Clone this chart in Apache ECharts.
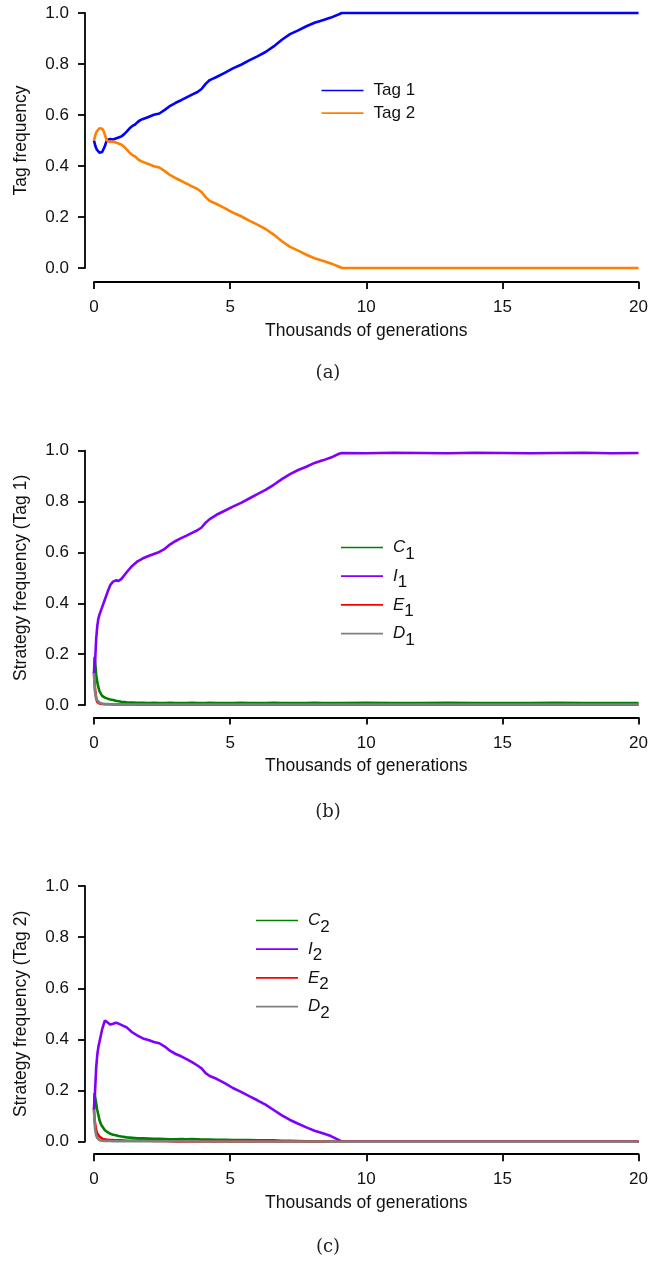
<!DOCTYPE html>
<html>
<head>
<meta charset="utf-8">
<script src="https://cdn.jsdelivr.net/npm/echarts@6/dist/echarts.min.js"></script>
<style>
  html, body { margin: 0; padding: 0; background: #fff; }
  #chart { width: 651px; height: 1262px; }
</style>
</head>
<body>
<div id="chart"></div>
<script>
// ---- Panel (a): tag frequencies over time (thousands of generations) ----
const tagTime = [0, 0.05, 0.1, 0.15, 0.2, 0.25, 0.3, 0.35, 0.4, 0.45, 0.5, 0.6, 0.7, 0.8, 0.9, 1.0,
  1.1, 1.2, 1.3, 1.4, 1.5, 1.6, 1.7, 1.8, 2.0, 2.2, 2.4, 2.6, 2.8, 3.0, 3.2, 3.4, 3.6, 3.8,
  3.95, 4.1, 4.25, 4.5, 4.8, 5.1, 5.4, 5.7, 6.0, 6.3, 6.6, 6.9, 7.2, 7.5, 7.8, 8.1, 8.4, 8.7,
  9.0, 9.1, 20];
const tag1 = [0.500, 0.478, 0.465, 0.458, 0.452, 0.450, 0.455, 0.462, 0.478, 0.495, 0.503, 0.506, 0.504, 0.508, 0.512, 0.516,
  0.524, 0.535, 0.547, 0.556, 0.562, 0.572, 0.580, 0.584, 0.592, 0.601, 0.606, 0.620, 0.636, 0.648, 0.658, 0.669, 0.680, 0.690,
  0.702, 0.722, 0.737, 0.749, 0.765, 0.783, 0.797, 0.814, 0.830, 0.847, 0.869, 0.895, 0.917, 0.932, 0.948, 0.962, 0.972, 0.982,
  0.995, 1.000, 1.000];
const tag2 = [0.500, 0.522, 0.535, 0.542, 0.548, 0.550, 0.546, 0.538, 0.522, 0.506, 0.497, 0.494, 0.496, 0.492, 0.488, 0.484,
  0.476, 0.465, 0.453, 0.444, 0.438, 0.428, 0.420, 0.416, 0.408, 0.399, 0.394, 0.380, 0.364, 0.352, 0.342, 0.331, 0.320, 0.310,
  0.298, 0.278, 0.263, 0.251, 0.235, 0.217, 0.203, 0.186, 0.170, 0.153, 0.131, 0.105, 0.083, 0.068, 0.052, 0.038, 0.028, 0.018,
  0.005, 0.000, 0.000];

// ---- Panels (b) and (c): strategy frequencies within each tag ----
const stratTime = [
  0, 0.02, 0.04, 0.08, 0.12, 0.16, 0.2, 0.25, 0.3, 0.4, 0.5, 0.6, 0.7, 0.8, 0.9, 1.0,
  1.2, 1.4, 1.6, 1.8, 2.0, 2.2, 2.4, 2.6, 2.8, 3.0, 3.2, 3.4, 3.6, 3.8,
  3.95, 4.1, 4.25,
  4.5, 4.8, 5.1, 5.4, 5.7, 6.0, 6.3, 6.6, 6.9, 7.2, 7.5, 7.8, 8.1, 8.4, 8.7, 9.0,
  9.1,
  10, 11, 12, 13, 14, 15, 16, 17, 18, 19, 20];

// Tag 1
const c1 = [
  0.125, 0.19, 0.17, 0.12, 0.09, 0.07, 0.055, 0.045, 0.036, 0.029, 0.025, 0.022, 0.020, 0.017, 0.015, 0.013,
  0.011, 0.010, 0.009, 0.009, 0.008, 0.009, 0.008, 0.008, 0.009, 0.008, 0.008, 0.008, 0.009, 0.008,
  0.008, 0.008, 0.009,
  0.008, 0.008, 0.008, 0.009, 0.008, 0.008, 0.008, 0.009, 0.008, 0.008, 0.008, 0.008, 0.009, 0.008, 0.008, 0.008,
  0.008,
  0.009, 0.008, 0.008, 0.009, 0.008, 0.008, 0.008, 0.009, 0.008, 0.008, 0.008];
const i1 = [
  0.125, 0.14, 0.17, 0.26, 0.31, 0.34, 0.355, 0.37, 0.385, 0.415, 0.445, 0.472, 0.485, 0.490, 0.488, 0.495,
  0.522, 0.547, 0.565, 0.577, 0.586, 0.594, 0.602, 0.614, 0.632, 0.645, 0.656, 0.666, 0.677, 0.687,
  0.698, 0.717, 0.731,
  0.748, 0.764, 0.780, 0.795, 0.812, 0.829, 0.846, 0.866, 0.888, 0.908, 0.924, 0.937, 0.952, 0.962, 0.973, 0.988,
  0.991,
  0.990, 0.992, 0.991, 0.990, 0.992, 0.991, 0.990, 0.991, 0.992, 0.990, 0.991];
const e1 = [
  0.125, 0.09, 0.06, 0.025, 0.012, 0.008, 0.006, 0.005, 0.004, 0.003, 0.003, 0.003, 0.002, 0.002, 0.002, 0.002,
  0.002, 0.002, 0.001, 0.001, 0.001, 0.001, 0.001, 0.001, 0.001, 0.001, 0.001, 0.001, 0.001, 0.001,
  0.001, 0.001, 0.001,
  0.001, 0.001, 0.001, 0.001, 0.001, 0.001, 0.001, 0.001, 0.001, 0.001, 0.001, 0.001, 0.001, 0.001, 0.001, 0.001,
  0.001,
  0.001, 0.001, 0.001, 0.001, 0.001, 0.001, 0.001, 0.001, 0.001, 0.001, 0.001];
const d1 = [
  0.125, 0.08, 0.05, 0.028, 0.018, 0.012, 0.009, 0.007, 0.006, 0.004, 0.004, 0.003, 0.003, 0.003, 0.002, 0.002,
  0.002, 0.002, 0.002, 0.002, 0.002, 0.002, 0.002, 0.002, 0.002, 0.002, 0.002, 0.002, 0.002, 0.002,
  0.002, 0.002, 0.002,
  0.002, 0.002, 0.002, 0.002, 0.002, 0.002, 0.002, 0.002, 0.002, 0.002, 0.002, 0.002, 0.002, 0.002, 0.002, 0.002,
  0.002,
  0.002, 0.002, 0.002, 0.002, 0.002, 0.002, 0.002, 0.002, 0.002, 0.002, 0.002];

// Tag 2
const c2 = [
  0.125, 0.19, 0.185, 0.15, 0.124, 0.105, 0.085, 0.070, 0.060, 0.045, 0.037, 0.031, 0.027, 0.025, 0.022, 0.020,
  0.017, 0.015, 0.013, 0.013, 0.012, 0.011, 0.011, 0.010, 0.009, 0.009, 0.010, 0.009, 0.010, 0.009,
  0.008, 0.008, 0.008,
  0.007, 0.007, 0.006, 0.006, 0.006, 0.005, 0.005, 0.005, 0.004, 0.004, 0.003, 0.002, 0.001, 0.001, 0.000, 0.000,
  0.000,
  0, 0, 0, 0, 0, 0, 0, 0, 0, 0, 0];
const i2 = [
  0.125, 0.16, 0.20, 0.29, 0.34, 0.37, 0.39, 0.415, 0.44, 0.474, 0.466, 0.458, 0.461, 0.465, 0.462, 0.457,
  0.447, 0.428, 0.415, 0.404, 0.398, 0.390, 0.385, 0.372, 0.355, 0.343, 0.334, 0.323, 0.311, 0.298,
  0.287, 0.268, 0.257,
  0.246, 0.229, 0.210, 0.195, 0.178, 0.162, 0.145, 0.124, 0.103, 0.085, 0.070, 0.056, 0.043, 0.033, 0.022, 0.006,
  0.000,
  0, 0, 0, 0, 0, 0, 0, 0, 0, 0, 0];
const e2 = [
  0.125, 0.09, 0.07, 0.045, 0.032, 0.025, 0.020, 0.015, 0.012, 0.009, 0.007, 0.006, 0.006, 0.005, 0.005, 0.005,
  0.004, 0.004, 0.004, 0.004, 0.004, 0.003, 0.003, 0.003, 0.002, 0.001, 0.001, 0.001, 0.001, 0.001,
  0.001, 0.001, 0.001,
  0.001, 0.001, 0.001, 0.001, 0.001, 0.001, 0.001, 0.001, 0.001, 0.001, 0.001, 0.001, 0.001, 0.001, 0.000, 0.000,
  0.000,
  0, 0, 0, 0, 0, 0, 0, 0, 0, 0, 0];
const d2 = [
  0.125, 0.08, 0.05, 0.025, 0.014, 0.009, 0.006, 0.005, 0.004, 0.003, 0.003, 0.003, 0.002, 0.002, 0.002, 0.002,
  0.002, 0.002, 0.002, 0.002, 0.002, 0.002, 0.002, 0.002, 0.002, 0.002, 0.002, 0.002, 0.002, 0.002,
  0.001, 0.001, 0.001,
  0.001, 0.001, 0.001, 0.001, 0.001, 0.001, 0.001, 0.001, 0.001, 0.001, 0.001, 0.001, 0.001, 0.001, 0.000, 0.000,
  0.000,
  0, 0, 0, 0, 0, 0, 0, 0, 0, 0, 0];

// Axis ticks and labels
const xTicks = [0, 5, 10, 15, 20];
const yTicks = [0.0, 0.2, 0.4, 0.6, 0.8, 1.0];
const xTitle = 'Thousands of generations';
const yTitles = ['Tag frequency', 'Strategy frequency (Tag 1)', 'Strategy frequency (Tag 2)'];
const panelLabels = ['(a)', '(b)', '(c)'];

const COLORS = {
  tag1: '#0000ff', tag2: '#ff7f00',
  C: '#008000', I: '#8000ff', E: '#ff0000', D: '#808080'
};
const SANS = '"Liberation Sans", Arial, Helvetica, sans-serif';

// Plot-area placement of the three stacked panels
const panels = [
  { top: 13,    height: 255,   xOffset: 14,   labelTop: 364 },
  { top: 450.7, height: 254.3, xOffset: 12.5, labelTop: 803 },
  { top: 886,   height: 255.7, xOffset: 12.5, labelTop: 1238 }
];
const PLOT_LEFT = 94, PLOT_WIDTH = 546.7;

const zip = (t, v) => t.map((x, k) => [x, v[k]]);

const axisLineStyle = { color: '#000', width: 1.8 };

const grid = panels.map(p => ({
  left: PLOT_LEFT, top: p.top, width: PLOT_WIDTH, height: p.height, containLabel: false
}));

const xAxis = panels.map((p, i) => ({
  gridIndex: i, type: 'value',
  min: xTicks[0], max: xTicks[xTicks.length - 1], interval: xTicks[1] - xTicks[0],
  offset: p.xOffset,
  axisLine: { show: true, onZero: false, lineStyle: axisLineStyle },
  axisTick: { show: true, length: 7, lineStyle: axisLineStyle },
  axisLabel: { fontSize: 17, color: '#111', fontFamily: SANS, margin: 17 },
  splitLine: { show: false },
  name: xTitle, nameLocation: 'middle', nameGap: 40,
  nameTextStyle: { fontSize: 17.5, color: '#111', fontFamily: SANS }
}));

const yAxis = panels.map((p, i) => ({
  gridIndex: i, type: 'value',
  min: yTicks[0], max: yTicks[yTicks.length - 1], interval: yTicks[1] - yTicks[0],
  offset: 9,
  axisLine: { show: true, onZero: false, lineStyle: axisLineStyle },
  axisTick: { show: true, length: 7, lineStyle: axisLineStyle },
  axisLabel: { fontSize: 17, color: '#111', fontFamily: SANS, margin: 16, formatter: v => v.toFixed(1) },
  splitLine: { show: false },
  name: yTitles[i], nameLocation: 'middle', nameGap: 55,
  nameTextStyle: { fontSize: 17.5, color: '#111', fontFamily: SANS }
}));

function lineSeries(name, idx, time, values, color) {
  return {
    name, type: 'line', xAxisIndex: idx, yAxisIndex: idx,
    data: zip(time, values),
    symbol: 'none', showSymbol: false, clip: false,
    lineStyle: { color, width: 2.6 }, itemStyle: { color },
    emphasis: { disabled: true }
  };
}

const series = [
  lineSeries('Tag 1', 0, tagTime, tag1, COLORS.tag1),
  lineSeries('Tag 2', 0, tagTime, tag2, COLORS.tag2),
  lineSeries('C1', 1, stratTime, c1, COLORS.C),
  lineSeries('I1', 1, stratTime, i1, COLORS.I),
  lineSeries('E1', 1, stratTime, e1, COLORS.E),
  lineSeries('D1', 1, stratTime, d1, COLORS.D),
  lineSeries('C2', 2, stratTime, c2, COLORS.C),
  lineSeries('I2', 2, stratTime, i2, COLORS.I),
  lineSeries('E2', 2, stratTime, e2, COLORS.E),
  lineSeries('D2', 2, stratTime, d2, COLORS.D)
];

// Strategy names: italic letter with a lowered tag digit
const stratRich = {
  v: { fontSize: 17, fontStyle: 'italic', fontFamily: SANS, color: '#111', lineHeight: 20 },
  s: { fontSize: 17, fontFamily: SANS, color: '#111', lineHeight: 20, padding: [13, 0, 0, 0] }
};
// Legend keys are plain thin strokes
const legendBase = {
  orient: 'vertical', icon: 'rect', itemWidth: 42, itemHeight: 1.7, padding: 0,
  selectedMode: false
};
const legend = [
  Object.assign({}, legendBase, {
    data: ['Tag 1', 'Tag 2'], left: 321.5, top: 81.5, itemGap: 4.7,
    textStyle: { fontSize: 17, fontFamily: SANS, color: '#111', lineHeight: 18, padding: [0, 0, 0, 5] }
  }),
  Object.assign({}, legendBase, {
    data: ['C1', 'I1', 'E1', 'D1'], left: 341, top: 532.5, itemGap: -1.3,
    formatter: n => '{v|' + n[0] + '}{s|' + n[1] + '}',
    textStyle: { padding: [0, 0, 0, 5], rich: stratRich }
  }),
  Object.assign({}, legendBase, {
    data: ['C2', 'I2', 'E2', 'D2'], left: 256, top: 905.5, itemGap: -1.3,
    formatter: n => '{v|' + n[0] + '}{s|' + n[1] + '}',
    textStyle: { padding: [0, 0, 0, 5], rich: stratRich }
  })
];

const title = panels.map((p, i) => ({
  text: panelLabels[i], left: 328, top: p.labelTop, textAlign: 'center', padding: 0,
  textStyle: { fontFamily: '"DejaVu Serif", "Liberation Serif", serif', fontWeight: 'normal', fontSize: 18, color: '#222' }
}));

const chart = echarts.init(document.getElementById('chart'), null, { renderer: 'canvas' });
chart.setOption({
  animation: false,
  backgroundColor: '#fff',
  title, grid, xAxis, yAxis, legend, series
});
</script>
</body>
</html>
